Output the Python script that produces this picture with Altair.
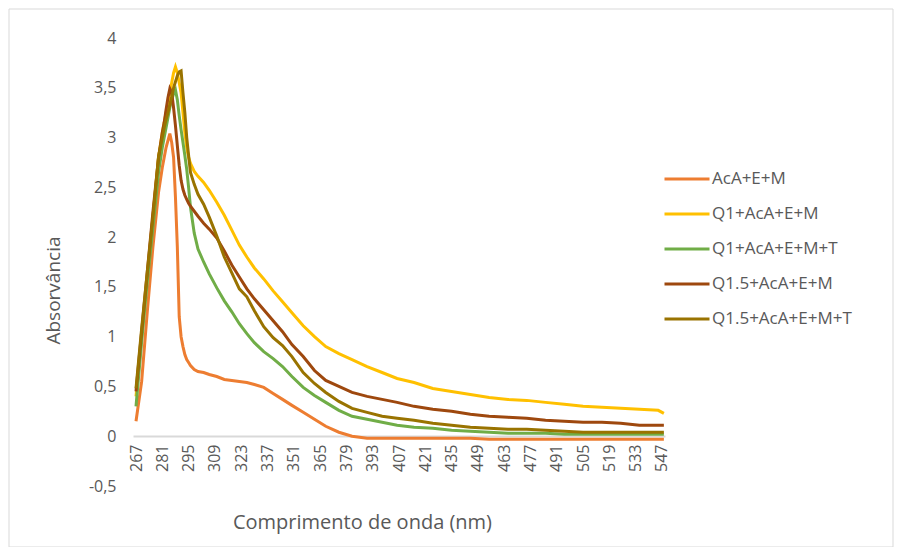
import altair as alt
import pandas as pd

wavelength = [267, 270, 273, 276, 279, 281, 282, 283, 284, 285, 286, 287, 288, 289, 290,
              291, 292, 293, 294, 295, 296, 298, 300, 303, 306, 310, 314, 318, 322, 326,
              330, 335, 340, 345, 350, 356, 362, 368, 375, 382, 390, 398, 406, 415, 425,
              435, 445, 455, 465, 475, 485, 495, 505, 515, 525, 535, 545, 548]

aca_e_m = [0.15, 0.55, 1.25, 1.9, 2.45, 2.7, 2.8, 2.9, 2.97, 3.04, 2.95, 2.8, 2.4, 1.9, 1.2,
           1.0, 0.9, 0.82, 0.77, 0.74, 0.71, 0.67, 0.65, 0.64, 0.62, 0.6, 0.57, 0.56, 0.55, 0.54,
           0.52, 0.49, 0.43, 0.37, 0.31, 0.24, 0.17, 0.1, 0.04, 0.0, -0.02, -0.02, -0.02, -0.02, -0.02,
           -0.02, -0.02, -0.03, -0.03, -0.03, -0.03, -0.03, -0.03, -0.03, -0.03, -0.03, -0.03, -0.03]

q1_aca_e_m = [0.40, 1.0, 1.6, 2.2, 2.8, 3.05, 3.15, 3.25, 3.35, 3.45, 3.55, 3.65, 3.71, 3.65, 3.55,
              3.45, 3.25, 3.05, 2.9, 2.8, 2.74, 2.66, 2.61, 2.55, 2.47, 2.35, 2.22, 2.07, 1.92, 1.8,
              1.69, 1.58, 1.46, 1.35, 1.24, 1.11, 1.0, 0.9, 0.83, 0.77, 0.7, 0.64, 0.58, 0.54, 0.48,
              0.45, 0.42, 0.39, 0.37, 0.36, 0.34, 0.32, 0.3, 0.29, 0.28, 0.27, 0.26, 0.23]

q1_aca_e_m_t = [0.30, 0.95, 1.55, 2.1, 2.65, 2.9, 3.0, 3.1, 3.2, 3.3, 3.38, 3.44, 3.48, 3.38, 3.22,
                3.08, 2.95, 2.82, 2.68, 2.5, 2.3, 2.04, 1.88, 1.75, 1.63, 1.49, 1.36, 1.25, 1.13, 1.03,
                0.94, 0.85, 0.78, 0.7, 0.6, 0.49, 0.41, 0.34, 0.26, 0.2, 0.17, 0.14, 0.11, 0.09, 0.08,
                0.06, 0.05, 0.04, 0.03, 0.03, 0.03, 0.02, 0.02, 0.02, 0.02, 0.02, 0.02, 0.02]

q15_aca_e_m = [0.45, 1.05, 1.65, 2.25, 2.8, 3.05, 3.15, 3.28, 3.4, 3.49, 3.45, 3.3, 3.12, 2.92, 2.72,
               2.57, 2.48, 2.42, 2.38, 2.34, 2.31, 2.26, 2.21, 2.14, 2.08, 1.99, 1.86, 1.72, 1.6, 1.48,
               1.38, 1.27, 1.16, 1.05, 0.92, 0.8, 0.66, 0.56, 0.5, 0.44, 0.4, 0.37, 0.34, 0.3, 0.27,
               0.25, 0.22, 0.2, 0.19, 0.18, 0.16, 0.15, 0.14, 0.14, 0.13, 0.11, 0.11, 0.11]

q15_aca_e_m_t = [0.48, 1.08, 1.65, 2.2, 2.81, 3.0, 3.1, 3.18, 3.25, 3.33, 3.41, 3.5, 3.56, 3.62, 3.66,
                 3.67, 3.45, 3.25, 3.0, 2.82, 2.65, 2.53, 2.43, 2.33, 2.2, 2.01, 1.8, 1.64, 1.48, 1.4,
                 1.26, 1.1, 0.99, 0.91, 0.8, 0.64, 0.53, 0.44, 0.35, 0.28, 0.24, 0.2, 0.18, 0.16, 0.13,
                 0.11, 0.09, 0.08, 0.07, 0.07, 0.06, 0.05, 0.04, 0.04, 0.04, 0.04, 0.04, 0.04]

series_names = ["AcA+E+M", "Q1+AcA+E+M", "Q1+AcA+E+M+T", "Q1.5+AcA+E+M", "Q1.5+AcA+E+M+T"]
series_colors = ["#ED7D31", "#FFC000", "#70AD47", "#9E480E", "#997300"]
x_ticks = list(range(267, 548, 14))
y_ticks = [-0.5, 0, 0.5, 1, 1.5, 2, 2.5, 3, 3.5, 4]

rows = []
for i, (name, vals) in enumerate(zip(series_names,
                                     [aca_e_m, q1_aca_e_m, q1_aca_e_m_t, q15_aca_e_m, q15_aca_e_m_t])):
    for w, v in zip(wavelength, vals):
        rows.append({"serie": name, "wl": w, "absorb": v, "k": i})
df = pd.DataFrame(rows)

W, H = 532, 448
FONT = "Open Sans"
GREY = "#595959"

border = alt.Chart(pd.DataFrame({"k": [0]})).mark_rect(
    filled=False, stroke="#d9d9d9", strokeWidth=1, clip=False
).encode(
    x=alt.value(-124), x2=alt.value(760), y=alt.value(-29), y2=alt.value(509)
)

lines = alt.Chart(df).mark_line(strokeWidth=3, clip=False).encode(
    x=alt.X("wl:Q",
            scale=alt.Scale(domain=[265.4, 548.6], nice=False, zero=False),
            axis=alt.Axis(values=x_ticks, format="d", labelAngle=270, ticks=False, grid=False,
                          domainColor="#d9d9d9", domainWidth=2, offset=-50, labelPadding=8,
                          labelFontSize=16, labelColor=GREY, labelFont=FONT, labelOverlap=False,
                          title="Comprimento de onda (nm)", titleX=229, titleY=86,
                          titleAlign="center", titleBaseline="middle", titleFontSize=20,
                          titleFontWeight="normal", titleColor=GREY, titleFont=FONT)),
    y=alt.Y("absorb:Q",
            scale=alt.Scale(domain=[-0.5, 4], nice=False, zero=False),
            axis=alt.Axis(values=y_ticks,
                          labelExpr="replace(toString(datum.value), '.', ',')",
                          domain=False, ticks=False, grid=False, labelPadding=17,
                          labelFontSize=16, labelColor=GREY, labelFont=FONT,
                          title="Absorvância", titleX=-80, titleY=252, titleAngle=270,
                          titleAlign="center", titleBaseline="middle", titleFontSize=19,
                          titleFontWeight="normal", titleColor=GREY, titleFont=FONT)),
    color=alt.Color("serie:N",
                    scale=alt.Scale(domain=series_names, range=series_colors),
                    legend=alt.Legend(title=None, orient="none", legendX=530, legendY=117,
                                      symbolType="stroke", symbolSize=2025, symbolStrokeWidth=3,
                                      labelFontSize=17, labelColor=GREY, labelFont=FONT,
                                      rowPadding=3, labelOffset=1, padding=0)),
    detail="k:O",
)

chart = alt.layer(border, lines).properties(
    width=W, height=H,
    autosize=alt.AutoSizeParams(type="none"),
    padding={"left": 125, "top": 30, "right": 229, "bottom": 61},
    background="white",
).configure_view(stroke=None)

chart.save("out.html", embed_options={"renderer": "svg", "actions": False})
